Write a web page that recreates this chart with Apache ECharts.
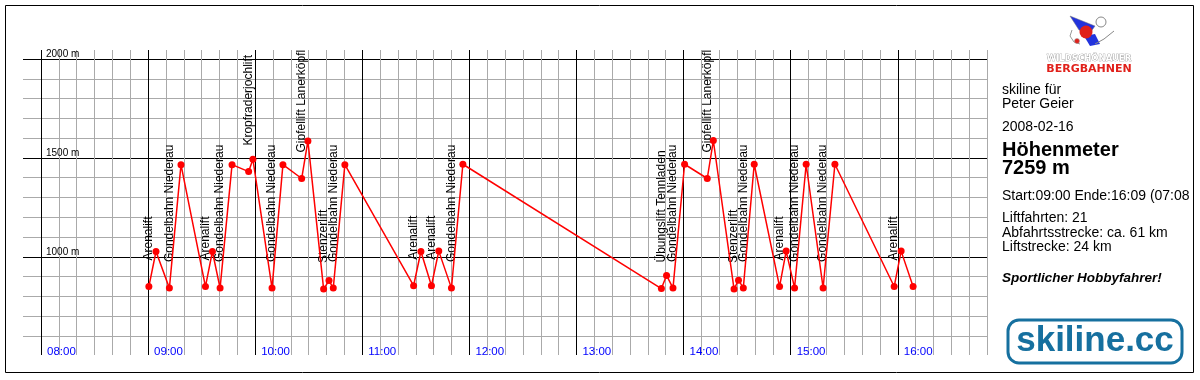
<!DOCTYPE html>
<html>
<head>
<meta charset="utf-8">
<script src="https://cdn.jsdelivr.net/npm/echarts@6/dist/echarts.min.js"></script>
<style>
html,body{margin:0;padding:0;background:#fff;}
#chart{width:1200px;height:380px;}
</style>
</head>
<body>
<div id="chart"></div>
<script>
// Time of each point in minutes after midnight
const times = [540.5, 544.5, 552, 558.5, 572.2, 576.1, 580.4, 587.1, 596.4, 598.8,
  609.5, 615.6, 626.1, 629.6, 638.4, 641.4, 643.8, 650.3, 688.8, 692.9,
  698.8, 702.9, 710, 716.4, 827.6, 830.5, 834.1, 840.6, 853.3, 856.7,
  868.3, 870.8, 873.5, 879.6, 893.8, 897.5, 902.2, 908.7, 918.2, 924.8,
  958, 961.9, 968.6];
// Altitude of each point in metres
const altitudes = [850, 1027, 842, 1466, 850, 1027, 842, 1466, 1431, 1493,
  842, 1466, 1396, 1586, 837, 880, 842, 1466, 854, 1027,
  854, 1029, 842, 1468, 840, 906, 842, 1468, 1396, 1588,
  837, 882, 843, 1468, 850, 1029, 843, 1468, 843, 1468,
  850, 1029, 850];
// Lift rides: index of the valley point where each ride starts, and lift name
const liftStart = [0, 2, 4, 6, 8, 10, 12, 14, 16, 18, 20, 22, 24, 26, 28, 30, 32, 34, 36, 38, 40];
const liftNames = ['Arenalift', 'Gondelbahn Niederau', 'Arenalift', 'Gondelbahn Niederau',
  'Kropfraderjochlift', 'Gondelbahn Niederau', 'Gipfellift Lanerköpfl', 'Stenzerlift',
  'Gondelbahn Niederau', 'Arenalift', 'Arenalift', 'Gondelbahn Niederau',
  'Übungslift Tennladen', 'Gondelbahn Niederau', 'Gipfellift Lanerköpfl', 'Stenzerlift',
  'Gondelbahn Niederau', 'Arenalift', 'Gondelbahn Niederau', 'Gondelbahn Niederau', 'Arenalift'];
// Axis settings
const timeMin = 480, timeMax = 1010, timeStep = 10;
const altMin = 600, altMax = 2000, altStep = 100;
const altLabels = [1000, 1500, 2000];
// Side panel texts
const panelLines = ['skiline für', 'Peter Geier'];
const panelDate = '2008-02-16';
const panelTitle = ['Höhenmeter', '7259 m'];
const panelTime = 'Start:09:00 Ende:16:09 (07:08';
const panelStats = ['Liftfahrten: 21', 'Abfahrtsstrecke: ca. 61 km', 'Liftstrecke: 24 km'];
const panelVerdict = 'Sportlicher Hobbyfahrer!';

const lineData = times.map((t, i) => [t, altitudes[i]]);
const labelData = liftStart.map((idx, i) => [times[idx], altitudes[idx], liftNames[i]]);

function pad(n) { return (n < 10 ? '0' : '') + n; }
const GRAY = '#aaaaaa';
const FONT = '"Liberation Sans", Arial, sans-serif';

const chart = echarts.init(document.getElementById('chart'), null, {renderer: 'canvas'});
chart.setOption({
  animation: false,
  backgroundColor: '#fff',
  grid: [
    {left: 41, right: 213, top: 50, bottom: 25},
    {left: 23, right: 213, top: 59, bottom: 44}
  ],
  xAxis: [
    {
      gridIndex: 0, type: 'value', min: timeMin, max: timeMax, interval: timeStep,
      axisLine: {show: false}, axisTick: {show: false},
      splitLine: {show: true, interval: 0, lineStyle: {width: 1, color: ['#000', GRAY, GRAY, GRAY, GRAY, GRAY]}},
      axisLabel: {
        inside: true, margin: 3, interval: 0, showMinLabel: true, showMaxLabel: true,
        align: 'left', verticalAlign: 'middle', padding: [0, 0, 0, 6],
        color: '#0000ff', fontSize: 11.5, fontFamily: FONT,
        formatter: v => (v % 60 === 0 && v < timeMax) ? pad(Math.floor(v / 60)) + ':00' : ''
      }
    },
    {
      gridIndex: 1, type: 'value', min: timeMin - timeStep, max: timeMax, show: false
    }
  ],
  yAxis: [
    {gridIndex: 0, type: 'value', min: 0, max: 1, show: false},
    {
      gridIndex: 1, type: 'value', min: altMin, max: altMax, interval: altStep,
      axisLine: {show: false}, axisTick: {show: false},
      splitLine: {show: true, interval: 0, lineStyle: {width: 1, color: [GRAY, GRAY, GRAY, GRAY, '#000']}},
      axisLabel: {
        inside: true, margin: 23, interval: 0, showMaxLabel: true,
        verticalAlign: 'bottom', color: '#000', fontSize: 10, fontFamily: FONT,
        formatter: v => altLabels.indexOf(v) >= 0 ? v + ' m' : ''
      }
    }
  ],
  series: [
    {
      type: 'line', xAxisIndex: 1, yAxisIndex: 1, data: lineData, z: 4,
      symbol: 'circle', symbolSize: 7, showAllSymbol: true,
      lineStyle: {color: '#ff0000', width: 1.5},
      itemStyle: {color: '#ff0000'}
    },
    {
      type: 'custom', xAxisIndex: 1, yAxisIndex: 1, data: labelData, z: 3, clip: false,
      renderItem: function (params, api) {
        const p = api.coord([api.value(0), api.value(1)]);
        return {
          type: 'text', x: p[0], y: p[1] - 26, rotation: Math.PI / 2,
          style: {
            text: liftNames[params.dataIndex], fill: '#000',
            font: '12px ' + FONT, align: 'left', verticalAlign: 'middle',
            textAlign: 'left', textVerticalAlign: 'middle'
          }
        };
      }
    }
  ],
  graphic: [
    {type: 'rect', shape: {x: 5.5, y: 5.5, width: 1188, height: 367}, style: {fill: 'none', stroke: '#000', lineWidth: 1}, z: 10},
    // Bergbahnen logo (simplified)
    {type: 'circle', shape: {cx: 1101, cy: 22, r: 5}, style: {fill: '#fff', stroke: '#888', lineWidth: 1}, z: 10},
    {type: 'polygon', shape: {points: [[1070, 16], [1095, 26], [1090, 33], [1079, 30]]}, style: {fill: '#2233dd', stroke: '#777', lineWidth: 0.5}, z: 10},
    {type: 'circle', shape: {cx: 1086, cy: 32, r: 6.5}, style: {fill: '#e0201a'}, z: 11},
    {type: 'polygon', shape: {points: [[1084, 36], [1095, 34], [1100, 44], [1090, 46]]}, style: {fill: '#2233dd'}, z: 10},
    {type: 'polyline', shape: {points: [[1095, 44], [1104, 39], [1114, 31]]}, style: {stroke: '#888', lineWidth: 1, fill: 'none'}, z: 10},
    {type: 'polyline', shape: {points: [[1072, 30], [1070, 36], [1074, 42], [1080, 44]]}, style: {stroke: '#999', lineWidth: 1, fill: 'none'}, z: 10},
    {type: 'circle', shape: {cx: 1077, cy: 41, r: 2.5}, style: {fill: '#e0201a', stroke: '#999', lineWidth: 0.5}, z: 10},
    {type: 'text', x: 1089, y: 59, style: {text: 'WILDSCHÖNAUER', font: 'bold 8.5px "DejaVu Sans"', fill: '#fff', stroke: '#888', lineWidth: 0.7, align: 'center', verticalAlign: 'middle'}, z: 10},
    {type: 'text', x: 1089, y: 69, style: {text: 'BERGBAHNEN', font: 'bold 11px "DejaVu Sans"', fill: '#e0201a', align: 'center', verticalAlign: 'middle'}, z: 10},
    // Panel texts
    {type: 'text', x: 1002, y: 90, style: {text: panelLines[0], font: '14px ' + FONT, fill: '#000', verticalAlign: 'middle'}, z: 10},
    {type: 'text', x: 1002, y: 104, style: {text: panelLines[1], font: '14px ' + FONT, fill: '#000', verticalAlign: 'middle'}, z: 10},
    {type: 'text', x: 1002, y: 127, style: {text: panelDate, font: '14px ' + FONT, fill: '#000', verticalAlign: 'middle'}, z: 10},
    {type: 'text', x: 1002, y: 150, style: {text: panelTitle[0], font: 'bold 20px ' + FONT, fill: '#000', verticalAlign: 'middle'}, z: 10},
    {type: 'text', x: 1002, y: 168, style: {text: panelTitle[1], font: 'bold 20px ' + FONT, fill: '#000', verticalAlign: 'middle'}, z: 10},
    {type: 'text', x: 1002, y: 196, style: {text: panelTime, font: '14px ' + FONT, fill: '#000', verticalAlign: 'middle', width: 189, overflow: 'truncate', ellipsis: ''}, z: 10},
    {type: 'text', x: 1002, y: 218, style: {text: panelStats[0], font: '14px ' + FONT, fill: '#000', verticalAlign: 'middle'}, z: 10},
    {type: 'text', x: 1002, y: 233, style: {text: panelStats[1], font: '14px ' + FONT, fill: '#000', verticalAlign: 'middle'}, z: 10},
    {type: 'text', x: 1002, y: 247, style: {text: panelStats[2], font: '14px ' + FONT, fill: '#000', verticalAlign: 'middle'}, z: 10},
    {type: 'text', x: 1002, y: 278, style: {text: panelVerdict, font: 'italic bold 13.5px ' + FONT, fill: '#000', verticalAlign: 'middle'}, z: 10},
    // skiline.cc logo
    {type: 'rect', shape: {x: 1008, y: 320, width: 174, height: 43, r: 11}, style: {fill: '#fff', stroke: '#16709f', lineWidth: 3}, z: 10},
    {type: 'text', x: 1095, y: 341, style: {text: 'skiline.cc', font: 'bold 35px ' + FONT, fill: '#16709f', align: 'center', verticalAlign: 'middle'}, z: 11}
  ]
});
</script>
</body>
</html>
